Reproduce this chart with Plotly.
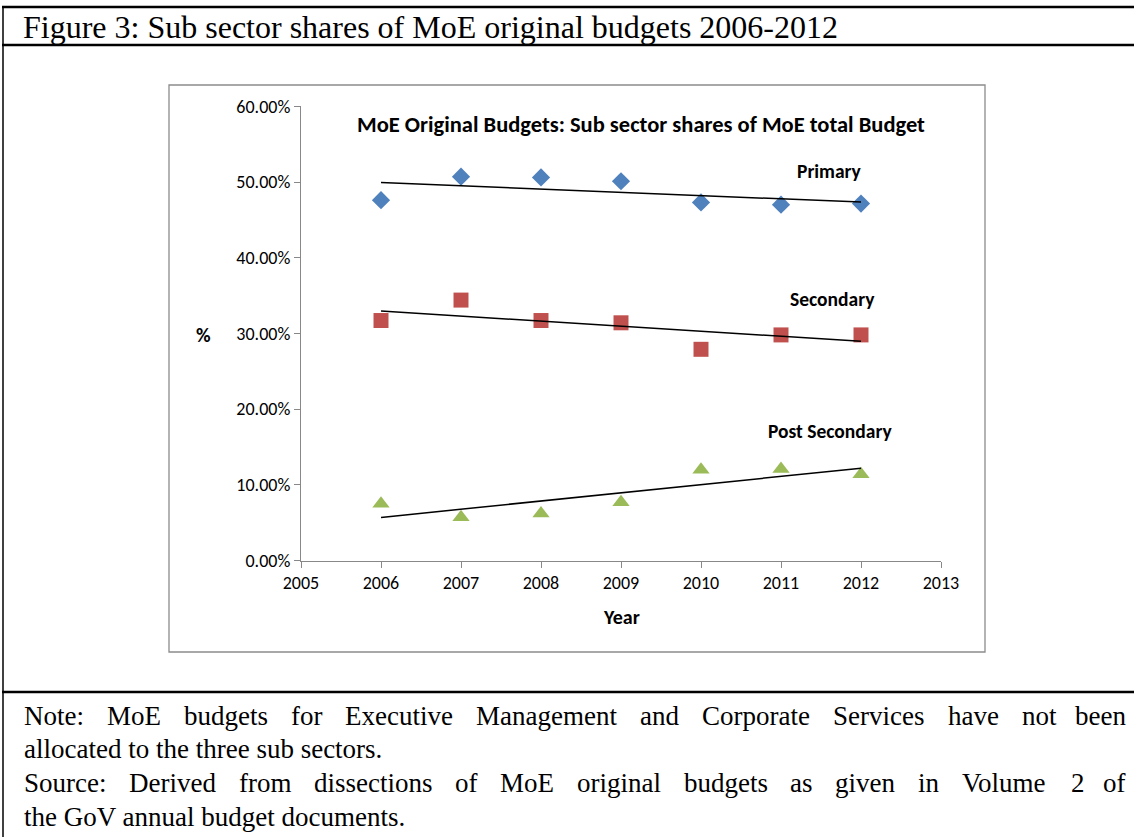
import numpy as np
import plotly.graph_objects as go

years = [2006, 2007, 2008, 2009, 2010, 2011, 2012]
primary = [47.6, 50.7, 50.6, 50.1, 47.3, 47.0, 47.15]
secondary = [31.7, 34.4, 31.7, 31.4, 27.9, 29.8, 29.8]
post_secondary = [7.5, 5.7, 6.2, 7.7, 12.0, 12.1, 11.4]

series_names = ["Primary", "Secondary", "Post Secondary"]
series_values = [primary, secondary, post_secondary]
colors = ["#4F81BD", "#C0504D", "#9BBB59"]
symbols = ["diamond", "square", "triangle-up"]
sizes = [14, 15, 15]
label_pos = [(2011.6, 51.45), (2011.64, 34.5), (2011.61, 17.1)]

x_ticks = [2005, 2006, 2007, 2008, 2009, 2010, 2011, 2012, 2013]
y_ticks = [0, 10, 20, 30, 40, 50, 60]
y_ticktext = ["%.2f%%" % v for v in y_ticks]

W, H = 1134, 837
def px(x):
    return x / W
def py(y):
    return 1 - y / H

CF = "Carlito, Lato, 'Liberation Sans', sans-serif"
SERIF = "'Liberation Serif', 'Times New Roman', serif"

# Times advance widths (per 1000 em) for justified text layout
TW = {' ': 250, ':': 278, '.': 250, ',': 250, '-': 333, 'M': 889, 'E': 611, 'N': 722,
      'S': 556, 'D': 722, 'C': 667, 'V': 722, 'G': 722, 'F': 556}
TW.update({c: 500 for c in "0123456789"})
TW.update(dict(a=444, b=500, c=444, d=500, e=444, f=333, g=500, h=500, i=278, j=278,
               k=500, l=278, m=778, n=500, o=500, p=500, q=500, r=333, s=389, t=278,
               u=500, v=500, w=722, x=500, y=500, z=444))
def text_w(s, size):
    return sum(TW.get(ch, 500) for ch in s) * size / 1000.0

fig = go.Figure()
xs = np.array(years, dtype=float)
for name, vals, c, s, sz in zip(series_names, series_values, colors, symbols, sizes):
    fig.add_trace(go.Scatter(x=years, y=vals, mode="markers", name=name,
                             marker=dict(color=c, symbol=s, size=sz, line=dict(width=0))))
    k, b = np.polyfit(xs, np.array(vals), 1)
    fig.add_trace(go.Scatter(x=[xs[0], xs[-1]], y=[k * xs[0] + b, k * xs[-1] + b],
                             mode="lines", line=dict(color="black", width=1.5),
                             showlegend=False, hoverinfo="skip"))

for name, (lx, ly) in zip(series_names, label_pos):
    fig.add_annotation(x=lx, y=ly, xref="x", yref="y", text="<b>%s</b>" % name,
                       showarrow=False, font=dict(family=CF, size=19.5, color="black"))

axis_common = dict(showgrid=False, zeroline=False, showline=True, linecolor="#888888",
                   linewidth=1.3, ticks="outside", ticklen=6, tickcolor="#888888",
                   automargin=False, tickfont=dict(family=CF, size=18, color="black"))
fig.update_layout(
    width=W, height=H, margin=dict(l=0, r=0, t=0, b=0, pad=0, autoexpand=False),
    paper_bgcolor="white", plot_bgcolor="white", showlegend=False,
    xaxis=dict(domain=[px(301), px(941)], range=[2005, 2013], tickvals=x_ticks, **axis_common),
    yaxis=dict(domain=[py(560.5), py(106.3)], range=[0, 60], tickvals=y_ticks,
               ticktext=y_ticktext, **axis_common),
)

shapes = []
shapes.append(dict(type="rect", xref="paper", yref="paper", x0=px(169), x1=px(985),
                   y0=py(652), y1=py(85), line=dict(color="#8c8c8c", width=1.3)))
for y, w in [(7, 2.5), (45, 2.5), (692, 2.5)]:
    shapes.append(dict(type="line", xref="paper", yref="paper", x0=px(2), x1=1,
                       y0=py(y), y1=py(y), line=dict(color="black", width=w)))
shapes.append(dict(type="line", xref="paper", yref="paper", x0=px(3), x1=px(3),
                   y0=py(6), y1=0, line=dict(color="black", width=1.5)))
fig.update_layout(shapes=shapes)

fig.add_annotation(x=px(21), y=py(27), xref="paper", yref="paper", xanchor="left", yanchor="middle",
                   text="Figure 3: Sub sector shares of MoE original budgets 2006-2012",
                   showarrow=False, font=dict(family=SERIF, size=32, color="black"))
fig.add_annotation(x=px(641), y=py(124), xref="paper", yref="paper", xanchor="center", yanchor="middle",
                   text="<b>MoE Original Budgets: Sub sector shares of MoE total Budget</b>",
                   showarrow=False, font=dict(family=CF, size=22.5, color="black"))
fig.add_annotation(x=px(621), y=py(617), xref="paper", yref="paper", xanchor="center", yanchor="middle",
                   text="<b>Year</b>", showarrow=False, font=dict(family=CF, size=20, color="black"))
fig.add_annotation(x=px(203), y=py(335), xref="paper", yref="paper", xanchor="center", yanchor="middle",
                   text="<b>%</b>", showarrow=False, font=dict(family=CF, size=20, color="black"))

NOTE_SIZE = 27
LEFT, RIGHT = 22, 1128
notes = [
    (716, "Note: MoE budgets for Executive Management and Corporate Services have not been", True),
    (749, "allocated to the three sub sectors.", False),
    (783, "Source: Derived from dissections of MoE original budgets as given in Volume 2 of", True),
    (817, "the GoV annual budget documents.", False),
]
def word_ann(x, y, wd, anchor):
    fig.add_annotation(x=px(x), y=py(y), xref="paper", yref="paper", xanchor=anchor,
                       yanchor="middle", text=wd, showarrow=False,
                       font=dict(family=SERIF, size=NOTE_SIZE, color="black"))

for y, t, justify in notes:
    if not justify:
        word_ann(LEFT, y, t, "left")
        continue
    words = t.split(" ")
    widths = [text_w(wd, NOTE_SIZE) for wd in words]
    gap = (RIGHT - LEFT - sum(widths)) / (len(words) - 1)
    xpos = LEFT
    for i, (wd, ww) in enumerate(zip(words, widths)):
        if i == len(words) - 1:
            word_ann(RIGHT, y, wd, "right")
        else:
            word_ann(xpos, y, wd, "left")
        xpos += ww + gap

fig.write_html("out.html", config={"displayModeBar": False},
               post_script="document.body.style.margin='0';document.body.style.overflow='hidden';")
